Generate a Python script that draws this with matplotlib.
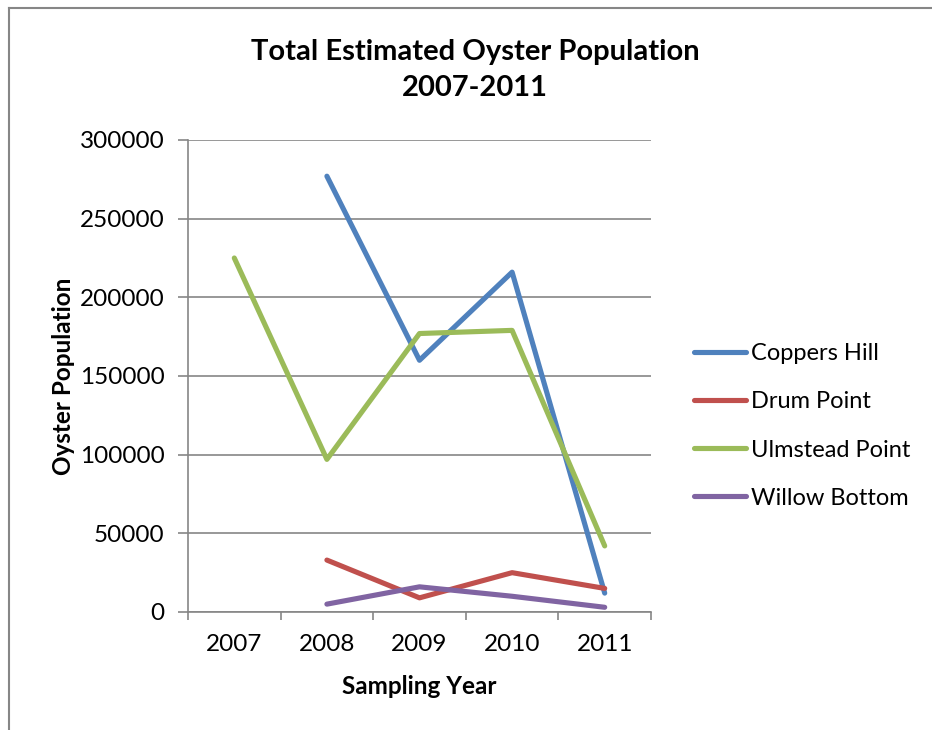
import numpy as np
import matplotlib
matplotlib.use("Agg")
import matplotlib.pyplot as plt
from matplotlib.lines import Line2D

plt.rcParams["font.family"] = ["Lato", "DejaVu Sans"]

# data
years = ["2007", "2008", "2009", "2010", "2011"]
coppers_hill = [np.nan, 277000, 160000, 216000, 12000]
drum_point = [np.nan, 33000, 9000, 25000, 15000]
ulmstead_point = [225000, 97000, 177000, 179000, 42000]
willow_bottom = [np.nan, 5000, 16000, 10000, 3000]

series = {
    "Coppers Hill": (coppers_hill, "#4F81BD"),
    "Drum Point": (drum_point, "#C0504D"),
    "Ulmstead Point": (ulmstead_point, "#9BBB59"),
    "Willow Bottom": (willow_bottom, "#8064A2"),
}

W, H = 932, 730
fig = plt.figure(figsize=(W / 100, H / 100), dpi=100)
ax = fig.add_axes([188 / W, 1 - 612 / H, (651 - 188) / W, (612 - 140) / H])

x = np.arange(len(years))
for name, (vals, col) in series.items():
    ax.plot(x, vals, color=col, lw=3.7, solid_capstyle="round",
            solid_joinstyle="round", label=name)

grey = "#868686"
fs = 17.5
ax.set_xlim(-0.5, len(years) - 0.5)
ax.set_ylim(0, 300000)
ax.set_yticks(np.arange(0, 300001, 50000))
ax.yaxis.grid(True, color=grey, lw=1.2)
ax.set_axisbelow(True)

# category boundaries get tick marks, labels sit in the middle
ax.set_xticks(np.arange(-0.5, len(years)), labels=[""] * (len(years) + 1))
ax.set_xticks(x, labels=years, minor=True)
ax.tick_params(axis="x", which="major", length=6, width=1.2, color=grey, direction="out")
ax.tick_params(axis="x", which="minor", length=0, pad=16, labelsize=fs)
ax.tick_params(axis="y", length=7, width=1.2, color=grey, labelsize=fs, pad=10)

for s in ["top", "right"]:
    ax.spines[s].set_visible(False)
for s in ["left", "bottom"]:
    ax.spines[s].set_color(grey)
    ax.spines[s].set_linewidth(1.2)

ax.set_xlabel("Sampling Year", fontsize=fs, fontweight="bold", labelpad=14)
ax.set_ylabel("Oyster Population", fontsize=fs, fontweight="bold", labelpad=3)

fig.text(475 / W, 1 - 70 / H, "Total Estimated Oyster Population\n2007-2011",
         ha="center", va="center", fontsize=21, fontweight="bold", linespacing=1.45)

ax.legend(loc="center left", bbox_to_anchor=(673 / W, 1 - 426 / H),
          bbox_transform=fig.transFigure, frameon=False, fontsize=17,
          handlelength=2.2, handletextpad=0.2, labelspacing=1.15)

# chart frame, cropped on the right and bottom
fig.add_artist(Line2D([9 / W, 9 / W], [0, 1 - 8 / H], color=grey, lw=1.5))
fig.add_artist(Line2D([9 / W, 1], [1 - 8 / H, 1 - 8 / H], color=grey, lw=1.5))

fig.savefig("out.png", dpi=100)
